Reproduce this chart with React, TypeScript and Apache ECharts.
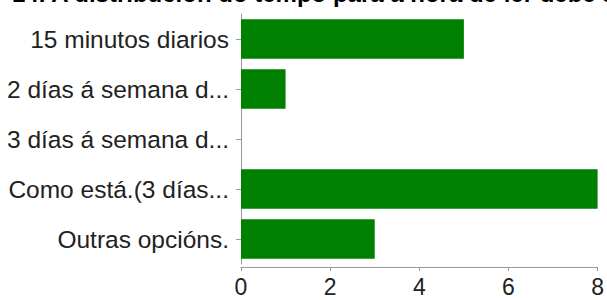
import React, { useEffect, useRef } from "react";
import * as echarts from "echarts";

const titleText = "14. A distribución do tempo para a hora de ler debe ser:";
const categories = [
  "15 minutos diarios",
  "2 días á semana d...",
  "3 días á semana d...",
  "Como está.(3 días...",
  "Outras opcións.",
];
const values = [5, 1, 0, 8, 3];
const xTicks = { min: 0, max: 8, interval: 2 };

export default function App() {
  const ref = useRef<HTMLDivElement>(null);
  useEffect(() => {
    if (!ref.current) return;
    const chart = echarts.init(ref.current, null, { renderer: "svg" });
    const font = "'Liberation Sans', Arial, sans-serif";
    chart.setOption({
      animation: false,
      backgroundColor: "#ffffff",
      graphic: [
        {
          type: "text",
          left: 12,
          top: -19,
          style: {
            text: titleText,
            fontFamily: font,
            fontWeight: "bold",
            fontSize: 24,
            fill: "#000",
          },
        },
      ],
      grid: { left: 241, right: 7, top: 14, bottom: 36 },
      xAxis: {
        type: "value",
        min: xTicks.min,
        max: xTicks.max,
        interval: xTicks.interval,
        offset: 3,
        splitLine: { show: false },
        axisLine: { show: true, lineStyle: { color: "#999", width: 1 } },
        axisTick: { show: true, length: 4, lineStyle: { color: "#999" } },
        axisLabel: { color: "#222", fontFamily: font, fontSize: 23, margin: 8 },
      },
      yAxis: {
        type: "category",
        data: categories,
        inverse: true,
        axisLine: { show: true, lineStyle: { color: "#999", width: 1 } },
        axisTick: { show: true, length: 5, alignWithLabel: true, lineStyle: { color: "#999" } },
        axisLabel: { color: "#222", fontFamily: font, fontSize: 24.5, margin: 12 },
      },
      series: [
        {
          type: "bar",
          data: values,
          barCategoryGap: "21%",
          itemStyle: { color: "#008000" },
        },
      ],
    });
    return () => chart.dispose();
  }, []);
  return <div ref={ref} style={{ width: 607, height: 300, position: "absolute", left: 0, top: 0 }} />;
}
